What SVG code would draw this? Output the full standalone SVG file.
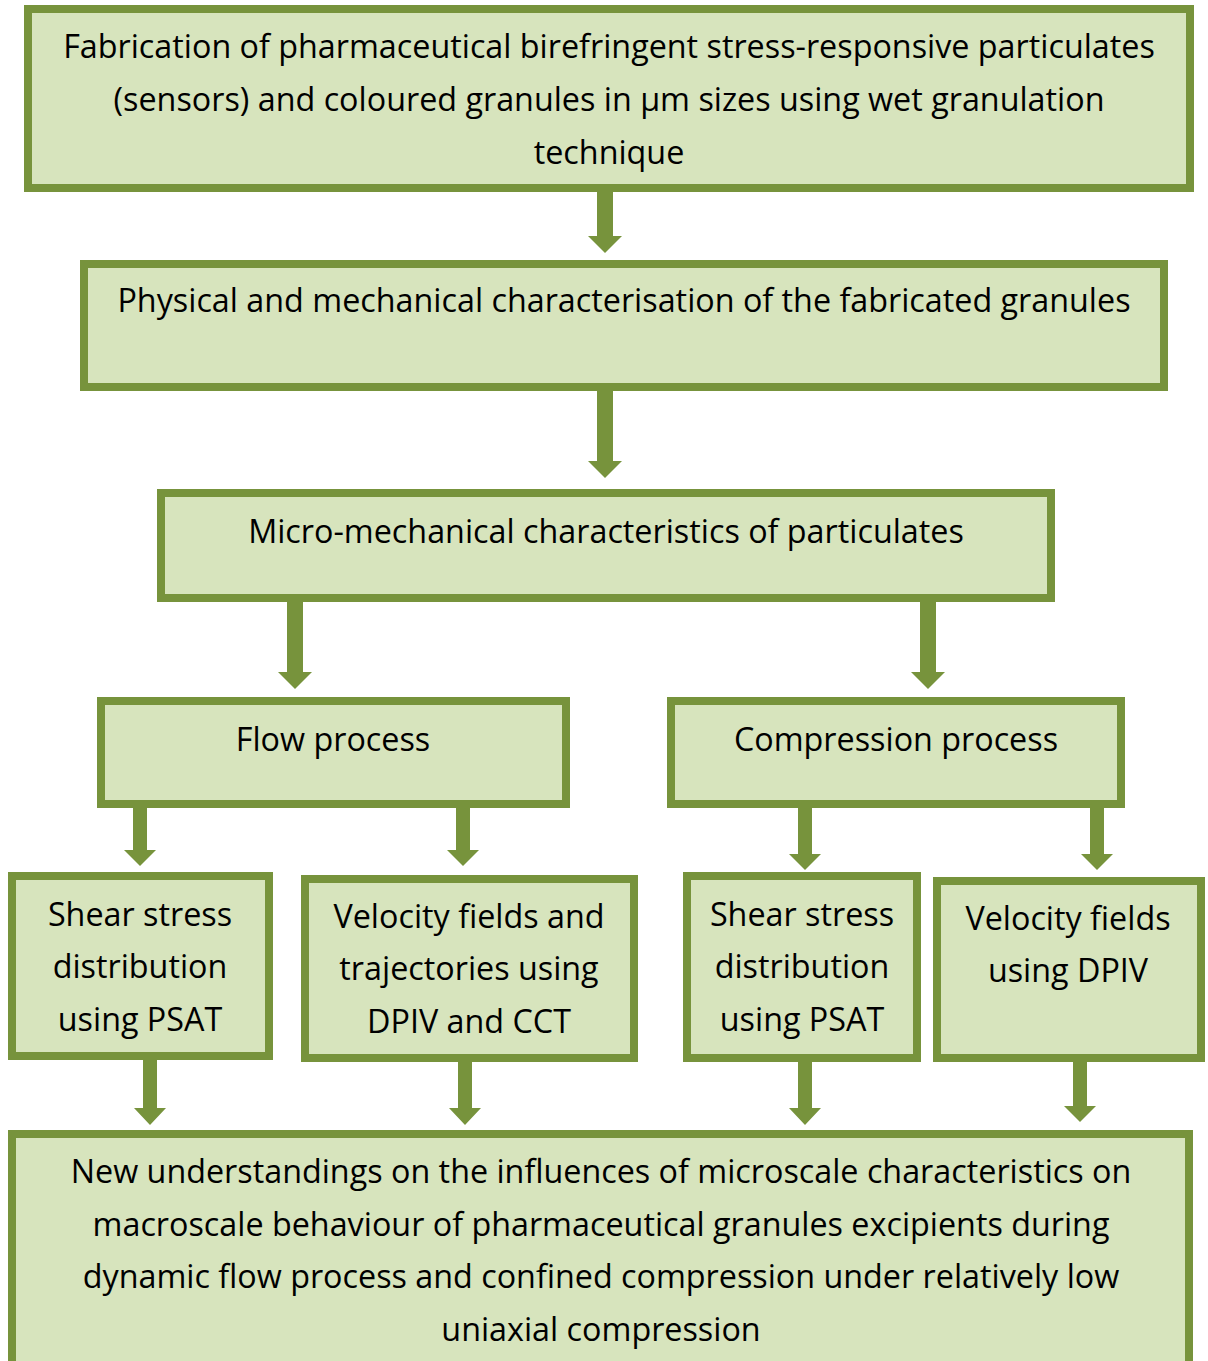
<svg xmlns="http://www.w3.org/2000/svg" width="1208" height="1361" viewBox="0 0 1208 1361">
<defs>
<style>
.box{fill:#D7E4BD;stroke:#77933C;stroke-width:8}
.t{font-family:"Open Sans","Noto Sans",sans-serif;font-size:32.3px;fill:#000;text-anchor:middle}
.arr{fill:#77933C}
</style>
</defs>
<rect width="1208" height="1361" fill="#fff"/>
<g id="n1"><rect class="box" x="28" y="9" width="1162" height="179"/>
<text class="t" x="609" y="58">Fabrication of pharmaceutical birefringent stress-responsive particulates</text>
<text class="t" x="609" y="111">(sensors) and coloured granules in µm sizes using wet granulation</text>
<text class="t" x="609" y="164">technique</text></g>
<g id="n2"><rect class="box" x="84" y="264" width="1080" height="123"/>
<text class="t" x="624" y="312">Physical and mechanical characterisation of the fabricated granules</text></g>
<g id="n3"><rect class="box" x="161" y="493" width="890" height="105"/>
<text class="t" x="606" y="543">Micro-mechanical characteristics of particulates</text></g>
<g id="n4"><rect class="box" x="101" y="701" width="465" height="103"/>
<text class="t" x="333" y="751">Flow process</text></g>
<g id="n5"><rect class="box" x="671" y="701" width="450" height="103"/>
<text class="t" x="896" y="751">Compression process</text></g>
<g id="n6"><rect class="box" x="12" y="876" width="257" height="180"/>
<text class="t" x="140" y="926">Shear stress</text>
<text class="t" x="140" y="978">distribution</text>
<text class="t" x="140" y="1031">using PSAT</text></g>
<g id="n7"><rect class="box" x="305" y="879" width="329" height="179"/>
<text class="t" x="469" y="928">Velocity fields and</text>
<text class="t" x="469" y="980">trajectories using</text>
<text class="t" x="469" y="1033">DPIV and CCT</text></g>
<g id="n8"><rect class="box" x="687" y="876" width="230" height="182"/>
<text class="t" x="802" y="926">Shear stress</text>
<text class="t" x="802" y="978">distribution</text>
<text class="t" x="802" y="1031">using PSAT</text></g>
<g id="n9"><rect class="box" x="937" y="881" width="264" height="177"/>
<text class="t" x="1068" y="930">Velocity fields</text>
<text class="t" x="1068" y="982">using DPIV</text></g>
<g id="n10"><rect class="box" x="12" y="1134" width="1177" height="240"/>
<text class="t" x="601" y="1183">New understandings on the influences of microscale characteristics on</text>
<text class="t" x="601" y="1236">macroscale behaviour of pharmaceutical granules excipients during</text>
<text class="t" x="601" y="1288">dynamic flow process and confined compression under relatively low</text>
<text class="t" x="601" y="1341">uniaxial compression</text></g>
<g id="connectors" class="arr">
<path d="M597,192H613V236H622L605,253L588,236H597Z"/>
<path d="M597,391H613V461H622L605,478L588,461H597Z"/>
<path d="M287,602H303V672H312L295,689L278,672H287Z"/>
<path d="M920,602H936V672H945L928,689L911,672H920Z"/>
<path d="M133,808H147V850H156L140,866L124,850H133Z"/>
<path d="M456,808H470V850H479L463,866L447,850H456Z"/>
<path d="M798,808H812V854H821L805,870L789,854H798Z"/>
<path d="M1090,808H1104V854H1113L1097,870L1081,854H1090Z"/>
<path d="M143,1060H157V1108H166L150,1125L134,1108H143Z"/>
<path d="M458,1062H472V1108H481L465,1125L449,1108H458Z"/>
<path d="M798,1062H812V1108H821L805,1125L789,1108H798Z"/>
<path d="M1073,1062H1087V1106H1096L1080,1122L1064,1106H1073Z"/>
</g>
</svg>
